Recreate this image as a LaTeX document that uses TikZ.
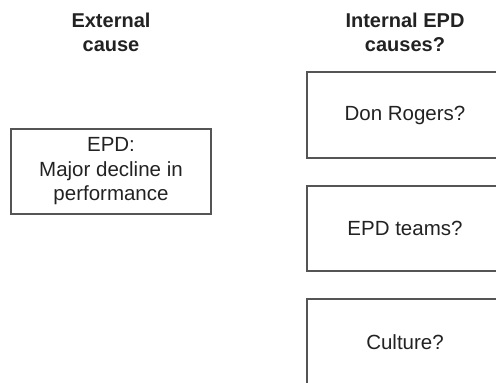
\documentclass[tikz,border=0pt]{standalone}
\usepackage{fontspec}
\setmainfont{Liberation Sans}
\usepackage{tikz}
\usetikzlibrary{positioning}

\definecolor{boxline}{HTML}{555555}
\definecolor{inktext}{HTML}{222222}

\begin{document}
\begin{tikzpicture}[
    x=1pt, y=-1pt,
    causebox/.style={rectangle, draw=boxline, line width=1.2pt, text=inktext, align=center,
        font=\fontsize{20.5}{24.5}\selectfont, inner sep=0pt},
    header/.style={align=center, text=inktext, font=\fontsize{20}{24}\selectfont\bfseries, inner sep=0pt}
]
    \useasboundingbox (0,0) rectangle (496,383);
    \clip (0,0) rectangle (496,383);

    % Column headers
    \node[header, anchor=base] (hext) at (111, 51) {External\\cause};
    \node[header, anchor=base] (hint) at (405, 51) {Internal EPD\\causes?};

    % External cause
    \node[causebox, minimum width=200, minimum height=85] (epd) at (111, 171.5)
        {EPD:\\Major decline in\\performance};

    % Internal causes
    \node[causebox, minimum width=196, minimum height=86] (don) at (405, 115) {Don Rogers?};
    \node[causebox, minimum width=196, minimum height=85] (teams) at (405, 228.5) {EPD teams?};
    \node[causebox, minimum width=196, minimum height=86] (culture) at (405, 342) {Culture?};
\end{tikzpicture}
\end{document}
